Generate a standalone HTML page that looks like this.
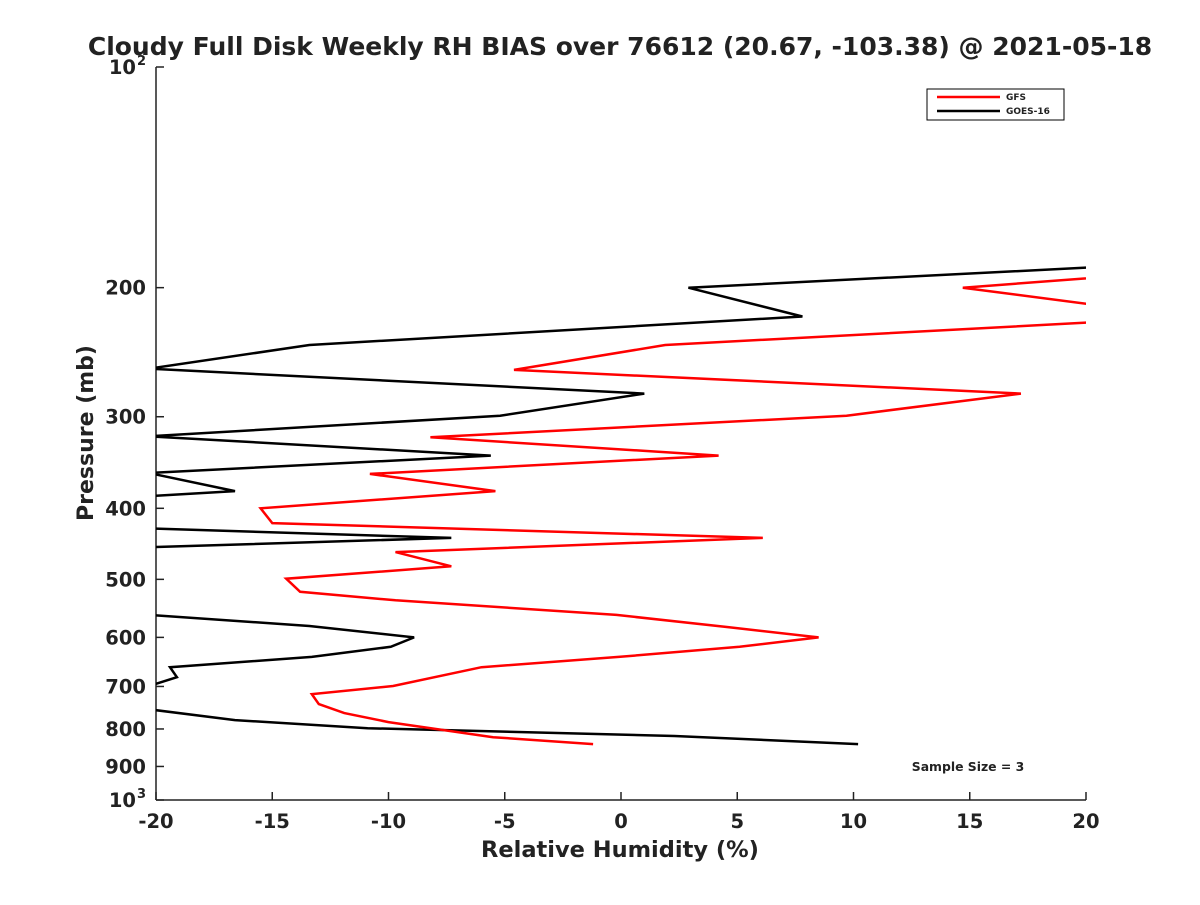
<!DOCTYPE html>
<html><head><meta charset="utf-8"><style>
body{margin:0;background:#fff}
svg text{font-family:"DejaVu Sans","Liberation Sans",sans-serif;font-weight:bold;fill:#222}
</style></head><body>
<svg id="chart" width="1200" height="900">
<defs><clipPath id="plotclip"><rect x="156" y="67" width="930" height="733"/></clipPath></defs>
<text x="620" y="55" font-size="25" text-anchor="middle">Cloudy Full Disk Weekly RH BIAS over 76612 (20.67, -103.38) @ 2021-05-18</text>
<g id="axes"></g>
<g id="series" clip-path="url(#plotclip)"></g>
<text x="620" y="857" font-size="22.5" text-anchor="middle">Relative Humidity (%)</text>
<text transform="translate(93,433) rotate(-90)" font-size="22" text-anchor="middle">Pressure (mb)</text>
<text x="968" y="771" font-size="12.4" text-anchor="middle">Sample Size = 3</text>
<g>
<rect x="927" y="89" width="137" height="31" fill="#fff" stroke="#000" stroke-width="1"/>
<line x1="937" y1="97" x2="1000" y2="97" stroke="#f00" stroke-width="2.5"/>
<text x="1006" y="100" font-size="9">GFS</text>
<line x1="937" y1="111" x2="1000" y2="111" stroke="#000" stroke-width="2.5"/>
<text x="1006" y="114" font-size="9">GOES-16</text>
</g>
</svg>
<script>
const xTicks=[-20,-15,-10,-5,0,5,10,15,20];
const yTickVals=[100,200,300,400,500,600,700,800,900,1000];
const yTickLabels=["10|2","200","300","400","500","600","700","800","900","10|3"];
const gfsPressure=[190,200,211,223,239.5,259,279,299,320,339,359,379,400,419,439,459,480,499,520,534,559,581,600,618,638,659,699,717,740,761,783,821,839];
const gfsValues=[24,14.7,20.3,20.3,1.9,-4.6,17.2,9.7,-8.2,4.2,-10.8,-5.4,-15.5,-15.0,6.1,-9.7,-7.3,-14.4,-13.8,-9.7,-0.2,4.6,8.5,5.1,-0.1,-6.0,-9.8,-13.3,-13.0,-11.9,-10.0,-5.5,-1.2];
const goesPressure=[187.5,200,219,239.5,258,279,299,319,339,358,379,385,405,426,439,452,520,559,579,600,618,638,659,680,699,724,752,778,798,818,839];
const goesValues=[20.5,2.9,7.8,-13.4,-20.3,1.0,-5.2,-20.3,-5.6,-20.3,-16.6,-20.3,-24,-20.3,-7.3,-20.3,-25,-20.3,-13.4,-8.9,-9.9,-13.3,-19.4,-19.1,-20.3,-22,-20.3,-16.6,-10.9,2.3,10.2];
const X0=156,X1=1086,Y0=67,Y1=800;
const xs=v=>X0+(v+20)/40*(X1-X0);
const ys=p=>Y0+(Math.log10(p)-2)*(Y1-Y0);
const NS="http://www.w3.org/2000/svg";
function mk(tag,attrs,parent){const e=document.createElementNS(NS,tag);for(const k in attrs)e.setAttribute(k,attrs[k]);parent.appendChild(e);return e;}
const ax=document.getElementById('axes');
let l=mk('line',{x1:X0,y1:Y0,x2:X0,y2:Y1,stroke:'#222','stroke-width':1.5},ax);


l=mk('line',{x1:X0,y1:Y1,x2:X1,y2:Y1,stroke:'#222','stroke-width':1.5},ax);


xTicks.forEach(v=>{
  const x=xs(v);
  const t=mk('line',{x1:x,y1:Y1,x2:x,y2:Y1-8,stroke:'#222','stroke-width':1.5},ax);
  
  
  const tx=mk('text',{x:x,y:Y1+28,'font-size':19.5,'text-anchor':'middle'},ax);
  tx.textContent=String(v);
  
  
});
yTickVals.forEach((p,i)=>{
  const y=ys(p);
  const t=mk('line',{x1:X0,y1:y,x2:X0+8,y2:y,stroke:'#222','stroke-width':1.5},ax);
  
  
  const lab=yTickLabels[i];
  if(lab.indexOf('|')>=0){
    const parts=lab.split('|');
    const tx=mk('text',{x:X0-20,y:y+7,'font-size':19.5,'text-anchor':'end'},ax);
    tx.textContent=parts[0];
    
    
    const sp=mk('text',{x:X0-19,y:y-2,'font-size':13,'text-anchor':'start'},ax);
    sp.textContent=parts[1];
    
    
  } else {
    const tx=mk('text',{x:X0-10,y:y+7,'font-size':19.5,'text-anchor':'end'},ax);
    tx.textContent=lab;
    
    
  }
});
const sg=document.getElementById('series');
function drawLine(ps,vs,color,name){
  const pts=ps.map((p,i)=>xs(vs[i]).toFixed(1)+','+ys(p).toFixed(1)).join(' ');
  const pl=mk('polyline',{points:pts,fill:'none',stroke:color,'stroke-width':2.5,'stroke-linejoin':'miter'},sg);
  
  
}
drawLine(goesPressure,goesValues,'#000','goes-16-line');
drawLine(gfsPressure,gfsValues,'#f00','gfs-line');
</script>
</body></html>
